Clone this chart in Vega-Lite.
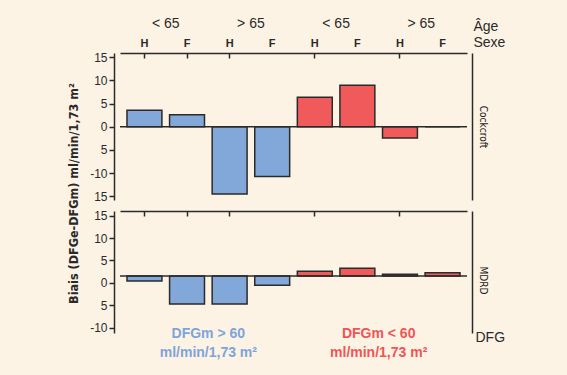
{
  "$schema": "https://vega.github.io/schema/vega-lite/v6.json",
  "background": "#fdf3e5",
  "padding": {"left": 67, "top": 16, "right": 70, "bottom": 30},
  "bounds": "flush",
  "spacing": 11,
  "config": {
    "view": {"stroke": null},
    "axis": {
      "grid": false,
      "labelFont": "Liberation Sans",
      "titleFont": "Liberation Sans",
      "labelColor": "#2a2a2a",
      "titleColor": "#2a2a2a",
      "domainColor": "#2a2a2a",
      "tickColor": "#2a2a2a",
      "domainWidth": 1.5,
      "tickWidth": 1.5,
      "titleFontWeight": "normal"
    }
  },
  "datasets": {
    "biais": [
      {"formule": "Cockcroft", "dfg": ">60", "age": "<65", "sexe": "H", "groupe": "1H", "biais": 3.56},
      {"formule": "Cockcroft", "dfg": ">60", "age": "<65", "sexe": "F", "groupe": "1F", "biais": 2.6},
      {"formule": "Cockcroft", "dfg": ">60", "age": ">65", "sexe": "H", "groupe": "2H", "biais": -14.5},
      {"formule": "Cockcroft", "dfg": ">60", "age": ">65", "sexe": "F", "groupe": "2F", "biais": -10.7},
      {"formule": "Cockcroft", "dfg": "<60", "age": "<65", "sexe": "H", "groupe": "3H", "biais": 6.36},
      {"formule": "Cockcroft", "dfg": "<60", "age": "<65", "sexe": "F", "groupe": "3F", "biais": 8.94},
      {"formule": "Cockcroft", "dfg": "<60", "age": ">65", "sexe": "H", "groupe": "4H", "biais": -2.41},
      {"formule": "Cockcroft", "dfg": "<60", "age": ">65", "sexe": "F", "groupe": "4F", "biais": 0},
      {"formule": "MDRD", "dfg": ">60", "age": "<65", "sexe": "H", "groupe": "1H", "biais": 0.4},
      {"formule": "MDRD", "dfg": ">60", "age": "<65", "sexe": "F", "groupe": "1F", "biais": -4.7},
      {"formule": "MDRD", "dfg": ">60", "age": ">65", "sexe": "H", "groupe": "2H", "biais": -4.7},
      {"formule": "MDRD", "dfg": ">60", "age": ">65", "sexe": "F", "groupe": "2F", "biais": -0.56},
      {"formule": "MDRD", "dfg": "<60", "age": "<65", "sexe": "H", "groupe": "3H", "biais": 2.57},
      {"formule": "MDRD", "dfg": "<60", "age": "<65", "sexe": "F", "groupe": "3F", "biais": 3.24},
      {"formule": "MDRD", "dfg": "<60", "age": ">65", "sexe": "H", "groupe": "4H", "biais": 1.9},
      {"formule": "MDRD", "dfg": "<60", "age": ">65", "sexe": "F", "groupe": "4F", "biais": 2.25}
    ]
  },
  "vconcat": [
    {
      "width": 347,
      "height": 147,
      "data": {"name": "biais"},
      "transform": [{"filter": "datum.formule == 'Cockcroft'"}],
      "resolve": {"axis": {"x": "independent", "y": "independent"}},
      "layer": [
        {
          "mark": {"type": "bar"},
          "encoding": {
            "x": {
              "field": "groupe", "type": "nominal",
              "scale": {"domain": ["1H","1F","2H","2F","3H","3F","4H","4F"], "paddingInner": 0.18, "paddingOuter": 0.164},
              "axis": {
                "orient": "top", "title": "Sexe",
                "labelExpr": "substring(datum.value, 1)",
                "labelAngle": 0, "labelFontSize": 11, "labelFontWeight": "bold",
                "labelPadding": 10, "tickSize": -5,
                "tickOpacity": {"condition": {"test": "indexof(['1H','1F','2H','3H','4H'], datum.value) >= 0", "value": 1}, "value": 0},
                "domain": true,
                "titleX": 353, "titleY": -7, "titleAlign": "left", "titleBaseline": "alphabetic", "titleFontSize": 14, "titleAngle": 0
              }
            },
            "y": {
              "field": "biais", "type": "quantitative",
              "scale": {"domain": [-15.78, 15.9], "nice": false, "zero": false},
              "axis": {
                "orient": "left", "values": [15, 10, 5, 0, -5, -10, -15],
                "labelExpr": "datum.value == -5 ? '5' : datum.value == -15 ? '15' : '' + datum.value",
                "offset": 6, "tickSize": 5, "labelPadding": 2, "labelFontSize": 12,
                "title": "Biais (DFGe-DFGm) ml/min/1,73 m²",
                "titleFont": "DejaVu Sans Condensed", "titleFontWeight": "bold", "titleFontSize": 12.5,
                "titleX": -37, "titleY": 140, "titleAngle": -90, "titleAlign": "center", "titleBaseline": "alphabetic"
              }
            },
            "color": {"field": "dfg", "type": "nominal", "scale": {"domain": [">60", "<60"], "range": ["#82a8da", "#f05a5b"]}, "legend": null}
          }
        },
        {
          "data": {"values": [{}]},
          "mark": {"type": "rule", "color": "#2a2a2a", "strokeWidth": 1.5},
          "encoding": {"y": {"datum": 0, "axis": null}}
        },
        {
          "mark": {"type": "bar", "fillOpacity": 0, "stroke": "#2a2a2a", "strokeWidth": 1.5},
          "encoding": {
            "x": {
              "field": "groupe", "type": "nominal",
              "scale": {"domain": ["1H","1F","2H","2F","3H","3F","4H","4F"], "paddingInner": 0.18, "paddingOuter": 0.164},
              "axis": {
                "orient": "top", "values": ["1H", "2H", "3H", "4H"],
                "labelExpr": "(datum.value == '1H' || datum.value == '3H') ? '< 65' : '> 65'",
                "labelOffset": 21.3, "labelAngle": 0, "labelFontSize": 14, "labelPadding": 23,
                "labelOverlap": false, "ticks": false, "domain": false,
                "title": "Âge", "titleX": 353, "titleY": -23, "titleAlign": "left", "titleBaseline": "alphabetic", "titleFontSize": 14, "titleAngle": 0
              }
            },
            "y": {
              "field": "biais", "type": "quantitative",
              "scale": {"domain": [-15.78, 15.9], "nice": false, "zero": false},
              "axis": {
                "orient": "right", "labels": false, "ticks": false, "domain": true, "offset": 5,
                "title": "Cockcroft", "titleAngle": 90, "titleFont": "DejaVu Sans Condensed", "titleFontSize": 10, "titleColor": "#1a1a1a",
                "titleX": 5, "titleBaseline": "bottom", "titleAlign": "center"
              }
            }
          }
        }
      ]
    },
    {
      "width": 347,
      "height": 122,
      "data": {"name": "biais"},
      "transform": [{"filter": "datum.formule == 'MDRD'"}],
      "resolve": {"axis": {"x": "independent", "y": "independent"}},
      "layer": [
        {
          "mark": {"type": "bar"},
          "encoding": {
            "x": {
              "field": "groupe", "type": "nominal",
              "scale": {"domain": ["1H","1F","2H","2F","3H","3F","4H","4F"], "paddingInner": 0.18, "paddingOuter": 0.164},
              "axis": {
                "orient": "top", "title": null, "labels": false,
                "tickSize": -5,
                "tickOpacity": {"condition": {"test": "indexof(['1H','1F','2H','3H','4H'], datum.value) >= 0", "value": 1}, "value": 0},
                "domain": true
              }
            },
            "y": {
              "field": "biais", "type": "quantitative",
              "scale": {"domain": [-11.2, 16.03], "nice": false, "zero": false},
              "axis": {
                "orient": "left", "values": [15, 10, 5, 0, -5, -10],
                "labelExpr": "datum.value == -5 ? '5' : '' + datum.value",
                "offset": 6, "tickSize": 5, "labelPadding": 2, "labelFontSize": 12,
                "title": null
              }
            },
            "y2": {"datum": 1.5},
            "color": {"field": "dfg", "type": "nominal", "scale": {"domain": [">60", "<60"], "range": ["#82a8da", "#f05a5b"]}, "legend": null}
          }
        },
        {
          "data": {"values": [{}]},
          "mark": {"type": "rule", "color": "#2a2a2a", "strokeWidth": 1.5},
          "encoding": {"y": {"datum": 1.5, "axis": null}}
        },
        {
          "mark": {"type": "bar", "fillOpacity": 0, "stroke": "#2a2a2a", "strokeWidth": 1.5},
          "encoding": {
            "x": {
              "field": "groupe", "type": "nominal",
              "scale": {"domain": ["1H","1F","2H","2F","3H","3F","4H","4F"], "paddingInner": 0.18, "paddingOuter": 0.164},
              "axis": {
                "orient": "bottom", "values": ["1F", "3F"],
                "labelExpr": "datum.value == '1F' ? ['DFGm > 60', 'ml/min/1,73 m²'] : ['DFGm < 60', 'ml/min/1,73 m²']",
                "labelOffset": 21.3, "labelAngle": 0, "labelFontSize": 14, "labelFontWeight": "bold",
                "labelColor": {"condition": {"test": "datum.value == '1F'", "value": "#7ea4da"}, "value": "#ef5557"},
                "labelLineHeight": 19, "labelPadding": -7, "labelOverlap": false,
                "ticks": false, "domain": false,
                "title": "DFG", "titleX": 355, "titleY": 8, "titleAlign": "left", "titleBaseline": "alphabetic", "titleFontSize": 14
              }
            },
            "y": {
              "field": "biais", "type": "quantitative",
              "scale": {"domain": [-11.2, 16.03], "nice": false, "zero": false},
              "axis": {
                "orient": "right", "labels": false, "ticks": false, "domain": true, "offset": 5,
                "title": "MDRD", "titleAngle": 90, "titleFont": "DejaVu Sans Condensed", "titleFontSize": 10, "titleColor": "#1a1a1a",
                "titleX": 5, "titleY": 69, "titleBaseline": "bottom", "titleAlign": "center"
              }
            },
            "y2": {"datum": 1.5}
          }
        }
      ]
    }
  ]
}
